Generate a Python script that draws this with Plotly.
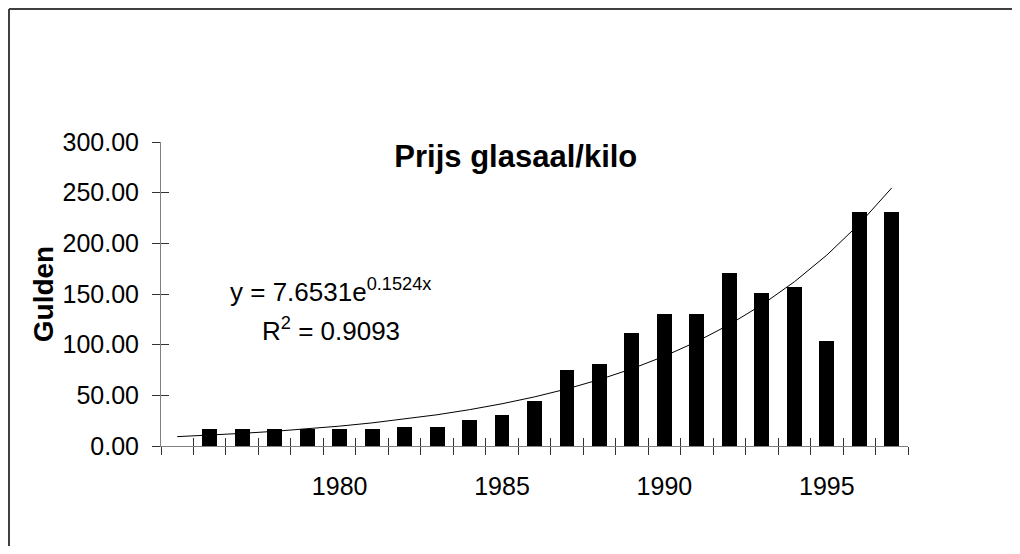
import numpy as np
import plotly.graph_objects as go

# price of glass eel per kilo, guilders (1975 has no bar, only the trend starts there)
years = list(range(1975, 1998))
prices = [None, 16.5, 16.5, 16.5, 16.5, 16.5, 16.5, 18.4, 18.4, 26.0, 30.9, 44.7,
          75.3, 81.2, 111.2, 130.0, 130.0, 171.0, 151.0, 157.2, 103.6, 231.2, 231.2]
label_years = [1980, 1985, 1990, 1995]
y_ticks = [0, 50, 100, 150, 200, 250, 300]

eq_text = "y = 7.6531e<sup>0.1524x</sup>"
r2_text = "R<sup>2</sup> = 0.9093"

# exponential trendline (Excel style, x = 1..n over the categories)
idx = np.arange(1, len(years) + 1)
has = np.array([p is not None for p in prices])
vals = np.array([p if p is not None else np.nan for p in prices], dtype=float)
b, ln_a = np.polyfit(idx[has], np.log(vals[has]), 1)
trend = np.exp(ln_a) * np.exp(b * idx)

bounds = [y - 0.5 for y in years] + [years[-1] + 0.5]
xr = [bounds[0], bounds[-1]]
FONT = "Liberation Sans, Arial, sans-serif"
TICKC = "#333333"

W, H = 1004, 538
L, T = 153, 134
PW, PH = 747, 304

fig = go.Figure()
fig.add_trace(go.Bar(x=years, y=prices, width=0.46,
                     marker=dict(color="black", line=dict(width=0)),
                     showlegend=False, hoverinfo="x+y"))
fig.add_trace(go.Scatter(x=years, y=trend, mode="lines",
                         line=dict(color="black", width=1),
                         xaxis="x2", yaxis="y2", showlegend=False))

# the page body adds 8px on each side; keep the figure inside the window
fig.update_layout(
    width=W, height=H,
    margin=dict(l=L, r=W - L - PW, t=T, b=H - T - PH),
    paper_bgcolor="white", plot_bgcolor="white",
    font=dict(family=FONT, color="black", size=25),
    bargap=0,
    title=dict(text="<b>Prijs glasaal/kilo</b>", font=dict(size=31),
               x=0.475, xref="paper", xanchor="center",
               y=1 - 148 / H, yanchor="middle"),
    xaxis=dict(range=xr, showgrid=False, zeroline=False,
               showline=True, linecolor="#808080", linewidth=1,
               tickmode="array", tickvals=label_years,
               ticktext=[str(v) for v in label_years],
               ticks="outside", ticklen=0, ticklabelstandoff=18,
               minor=dict(tickmode="array", tickvals=bounds, ticks="outside",
                          ticklen=8, tickwidth=1, tickcolor=TICKC)),
    xaxis2=dict(range=xr, matches="x", overlaying="x", anchor="y",
                showgrid=False, zeroline=False, showline=False,
                tickmode="array", tickvals=bounds, ticks="inside",
                ticklen=8, tickwidth=1, tickcolor=TICKC,
                showticklabels=False),
    yaxis=dict(range=[0, 300], showgrid=False, zeroline=False,
               showline=True, linecolor="#808080", linewidth=1,
               tickmode="array", tickvals=y_ticks, tickformat=".2f",
               ticks="outside", ticklen=8, tickwidth=1, tickcolor=TICKC,
               ticklabelstandoff=8,
               title=dict(text="<b>Gulden</b>", font=dict(size=28), standoff=0)),
    yaxis2=dict(range=[0, 300], matches="y", overlaying="y", anchor="x",
                side="left", showgrid=False, zeroline=False, showline=False,
                tickmode="array", tickvals=y_ticks, ticks="inside",
                ticklen=8, tickwidth=1, tickcolor=TICKC,
                showticklabels=False),
)

fig.add_annotation(text=eq_text, xref="paper", yref="paper",
                   x=(330 - 161) / PW, y=(446 - 290) / PH,
                   xanchor="center", yanchor="middle",
                   showarrow=False, font=dict(size=26))
fig.add_annotation(text=r2_text, xref="paper", yref="paper",
                   x=(331 - 161) / PW, y=(446 - 329) / PH,
                   xanchor="center", yanchor="middle",
                   showarrow=False, font=dict(size=26))

# outer chart frame: only its top and left edges are inside the window
frame_left = (1 - L) / PW
frame_right = (W - L) / PW
frame_top = (PH + T - 1) / PH
frame_bottom = (PH + T - H) / PH
fig.add_shape(type="line", xref="paper", yref="paper",
              x0=frame_left, x1=frame_right, y0=frame_top, y1=frame_top,
              line=dict(color="#404040", width=2), layer="above")
fig.add_shape(type="line", xref="paper", yref="paper",
              x0=frame_left, x1=frame_left, y0=frame_bottom, y1=frame_top,
              line=dict(color="#404040", width=2), layer="above")

fig.write_html("out.html")
